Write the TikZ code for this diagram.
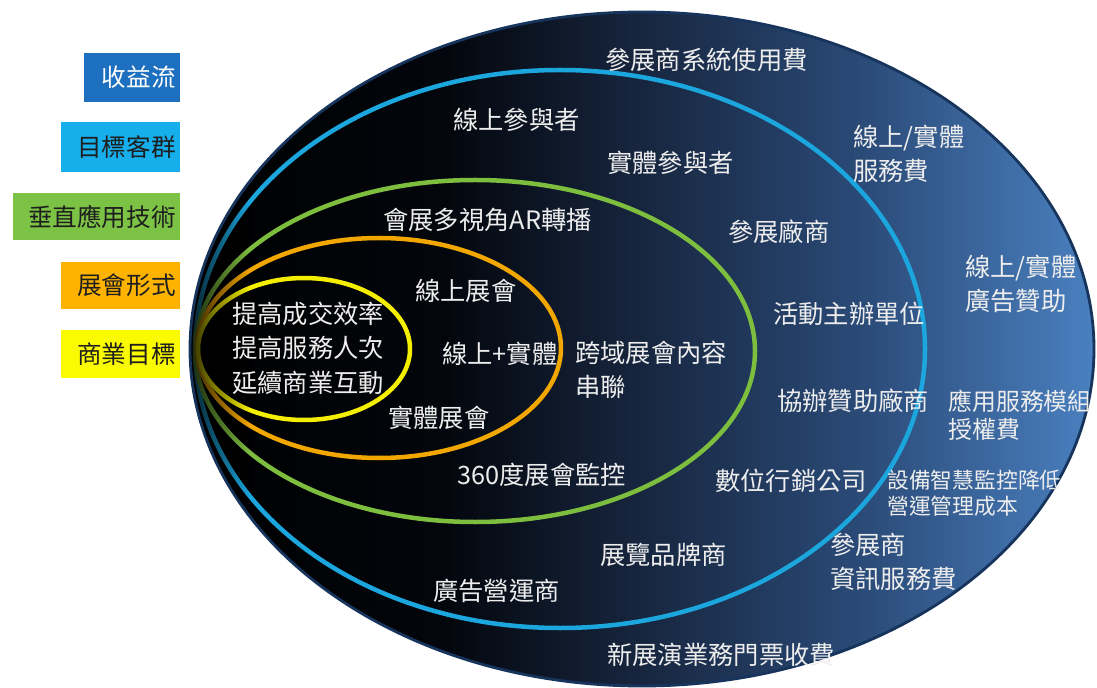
\documentclass[tikz,border=0pt]{standalone}
\usepackage{fontspec}
\setmainfont{Noto Sans CJK TC}
\usepackage{xcolor}
\usepackage{tikz}
\usetikzlibrary{shadings,fadings}
\definecolor{revBlue}{HTML}{1D6FC0}
\definecolor{custCyan}{HTML}{16AFEC}
\definecolor{techGreen}{HTML}{7CC245}
\definecolor{formOrange}{HTML}{FDB300}
\definecolor{goalYellow}{HTML}{FAFA00}
\definecolor{ringCyan}{HTML}{1BA6DE}
\definecolor{ringGreen}{HTML}{7EBE3F}
\definecolor{ringOrange}{HTML}{F2A600}
\definecolor{ringYellow}{HTML}{F4EE00}
\definecolor{hallA}{HTML}{03060C}
\definecolor{hallB}{HTML}{17263F}
\definecolor{hallC}{HTML}{2A4A77}
\definecolor{hallD}{HTML}{4A80C0}
\definecolor{hallRim}{HTML}{17345C}
\definecolor{legInk}{HTML}{1E1E1E}
\definecolor{lblInk}{HTML}{EDEDED}
\pgfdeclarehorizontalshading{hallshade}{100bp}{color(0bp)=(black); color(25bp)=(black); color(39bp)=(hallA); color(50bp)=(hallB); color(62bp)=(hallC); color(75bp)=(hallD); color(100bp)=(hallD)}
\newcommand{\hallfont}{\fontsize{18}{24.5}\selectfont}
\newcommand{\legfont}{\fontsize{17.5}{21}\selectfont}
\newcommand{\notefont}{\fontsize{15.5}{18.5}\selectfont}

\begin{document}
\begin{tikzpicture}[x=0.025cm,y=-0.025cm,
  legbox/.style={inner xsep=0.1cm,inner ysep=0,align=right,font=\legfont,text=legInk,anchor=east},
  lbl/.style={inner sep=0,anchor=west,align=left,text=lblInk,font=\hallfont},
  ring/.style={line width=3.2pt}]
\useasboundingbox (0,0) rectangle (1097,688);
\clip (0,0) rectangle (1097,688);
% legend
\node[legbox,fill=revBlue,text=white,text width=2.2cm,minimum height=1.225cm] (legRev) at (180,77.5) {收益流};
\node[legbox,fill=custCyan,text width=2.775cm,minimum height=1.25cm] (legCust) at (180,147) {目標客群};
\node[legbox,fill=techGreen,text width=3.975cm,minimum height=1.175cm] (legTech) at (180,216.5) {垂直應用技術};
\node[legbox,fill=formOrange,text width=2.775cm,minimum height=1.175cm] (legForm) at (180,285.5) {展會形式};
\node[legbox,fill=goalYellow,text width=2.775cm,minimum height=1.2cm] (legGoal) at (180,354) {商業目標};
% nested ellipses
\fill[shading=hallshade] (642,349) ellipse [x radius=452,y radius=337];
\draw[hallRim,line width=2pt] (642,349) ellipse [x radius=452,y radius=337];
\foreach \cx/\cy/\rx/\ry/\col in {560/349/365/279/ringCyan,475/351/280/171/ringGreen,379/348/182/110/ringOrange,304/349/106/71/ringYellow}
  \draw[ring,\col] (\cx,\cy) ellipse [x radius=\rx,y radius=\ry];
% dim the rings where they meet
\begin{scope}
\clip (642,349) ellipse [x radius=450,y radius=335];
\fill[black,fill opacity=0.85,path fading=east] (186,200) rectangle (250,500);
\end{scope}
% revenue
\node[lbl] (revSys) at (605,60) {參展商系統使用費};
\node[lbl] (revSvc) at (853,154) {線上/實體\\服務費};
\node[lbl] (revAd) at (965,284) {線上/實體\\廣告贊助};
\node[lbl,font=\fontsize{17}{20}\selectfont] (revLic) at (948,415) {應用服務模組\\授權費};
\node[lbl,font=\notefont] (revCost) at (887,493) {設備智慧監控降低\\營運管理成本};
\node[lbl] (revInfo) at (830,562) {參展商\\資訊服務費};
\node[lbl] (revTicket) at (607,655) {新展演業務門票收費};
% customers
\node[lbl] (custOnline) at (453,120) {線上參與者};
\node[lbl] (custOnsite) at (607,163) {實體參與者};
\node[lbl] (custExhib) at (728,232) {參展廠商};
\node[lbl] (custHost) at (773,314) {活動主辦單位};
\node[lbl] (custCo) at (777,401) {協辦贊助廠商};
\node[lbl] (custMkt) at (715,481) {數位行銷公司};
\node[lbl] (custBrand) at (600,555) {展覽品牌商};
\node[lbl] (custAd) at (433,591) {廣告營運商};
% technology
\node[lbl] (techAR) at (383,220) {會展多視角AR轉播};
\node[lbl] (techLink) at (575,370) {跨域展會內容\\串聯};
\node[lbl] (techCam) at (457,475) {360度展會監控};
% formats
\node[lbl] (formOnline) at (415,291) {線上展會};
\node[lbl] (formHybrid) at (442,354) {線上+實體};
\node[lbl] (formOnsite) at (388,418) {實體展會};
% goals
\node[lbl] (goalList) at (232,348) {提高成交效率\\提高服務人次\\延續商業互動};
\end{tikzpicture}
\end{document}
